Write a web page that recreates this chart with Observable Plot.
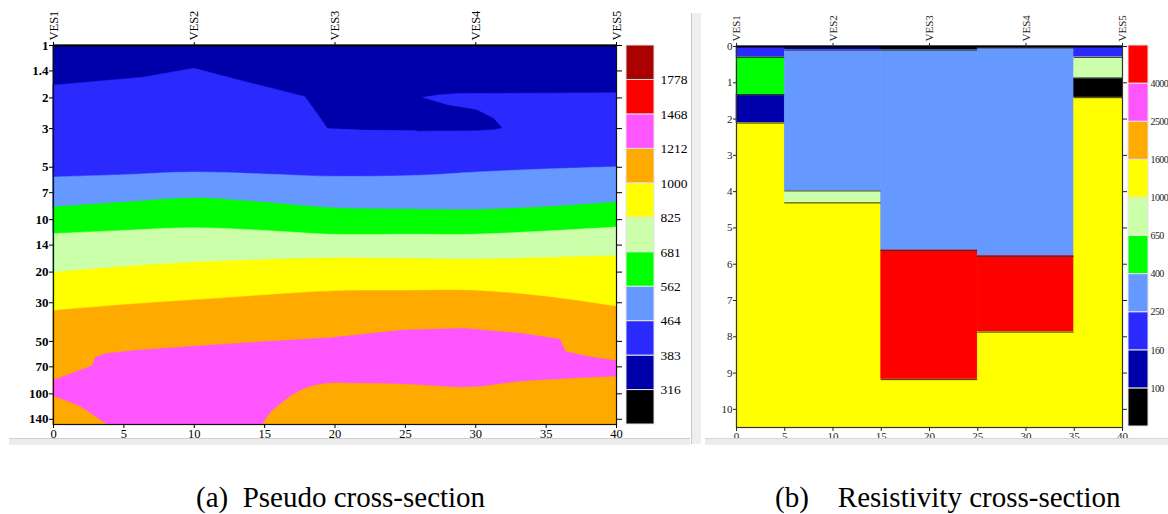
<!DOCTYPE html>
<html><head><meta charset="utf-8">
<script src="https://cdn.jsdelivr.net/npm/d3@7"></script>
<script src="https://cdn.jsdelivr.net/npm/@observablehq/plot@0.6"></script>
<style>
html,body{margin:0;padding:0;background:#fff;overflow:hidden;}
#root{position:relative;width:1168px;height:514px;font-family:'Liberation Serif','Times New Roman','DejaVu Serif',serif;}
.abs{position:absolute;}
.cap{position:absolute;font-family:'Liberation Serif','Times New Roman','DejaVu Serif',serif;font-size:29px;color:#000;white-space:pre;line-height:1;}
</style></head><body><div id="root"></div>
<script>
// ---------- (a) pseudo cross-section data ----------
const pseudoThresholds = [316, 383, 464, 562, 681, 825, 1000, 1212, 1468, 1778];
const pseudoColors = ["#000000", "#0000aa", "#2a2aff", "#6699ff", "#00ff00", "#ccffaa", "#ffff00", "#ffaa00", "#ff55ff", "#ff0000", "#aa0000"];
const pseudoDepthTicks = [1, 1.4, 2, 3, 5, 7, 10, 14, 20, 30, 50, 70, 100, 140];
const distanceTicks = [0, 5, 10, 15, 20, 25, 30, 35, 40];
const vesNames = ["VES1", "VES2", "VES3", "VES4", "VES5"];
const vesPositions = [0, 10, 20, 30, 40];
const pseudoMaxDepth = 150;

// top boundary of each apparent-resistivity zone (x in m, pseudo depth)
const zoneDarkBlueX = [0, 40];
const zoneDarkBlueTop = [1, 1];
const zoneBlueX = [0, 3, 6.4, 10, 14, 17.9, 19.0, 19.5, 22, 26.2, 26.2, 27.5, 28.9, 35, 40];
const zoneBlueTop = [1.70, 1.62, 1.53, 1.36, 1.65, 1.98, 2.64, 3.02, 3.08, 3.11, 2.0, 1.93, 1.90, 1.89, 1.88];
const tongueX = [25.9, 26.2, 28, 30.1, 31.3, 31.9];
const tongueTop = [2.02, 2.0, 2.21, 2.36, 2.64, 2.99];
const tongueBottom = [3.11, 3.11, 3.10, 3.09, 3.05, 2.99];
const zoneLightBlueX = [0, 5, 10, 15, 19.7, 26, 30.1, 35, 40];
const zoneLightBlueTop = [5.72, 5.55, 5.36, 5.5, 5.67, 5.6, 5.36, 5.15, 5.0];
const zoneGreenX = [0, 5, 10, 15, 19.7, 25, 29.6, 35, 40];
const zoneGreenTop = [8.5, 8.0, 7.56, 8.0, 8.6, 8.75, 8.82, 8.5, 7.97];
const zonePaleX = [0, 5, 10, 15, 19.7, 25, 29.9, 35, 40];
const zonePaleTop = [12.1, 11.6, 11.2, 11.6, 12.2, 12.2, 12.2, 11.7, 11.1];
const zoneYellowX = [0, 5, 10, 15, 19.7, 25, 29.9, 35, 40];
const zoneYellowTop = [20.2, 18.7, 17.7, 17.1, 16.7, 16.8, 17.0, 16.6, 16.2];
const zoneOrangeX = [0, 5, 10, 15, 19.7, 25, 29.9, 35, 40];
const zoneOrangeTop = [33.5, 31, 29.1, 27.3, 25.9, 25.7, 25.7, 27.8, 31.7];
const zoneMagentaX = [0, 1.5, 2.8, 3.0, 3.8, 6, 10, 15, 19.7, 24.9, 29.2, 33.2, 36, 36.4, 38, 40];
const zoneMagentaTop = [84, 76, 69.4, 62, 59, 56.5, 53.7, 50.5, 48, 43.3, 42.4, 45.2, 48.9, 57.6, 61.5, 64.9];
const lowerOrangeLeftX = [0, 1, 1.9, 2.84, 3.78];
const lowerOrangeLeftTop = [104, 111, 119, 133, 150];
const lowerOrangeRightX = [14.9, 15.5, 16.4, 17.3, 18.3, 19.7, 21.1, 24.9, 29.7, 33.2, 36, 40];
const lowerOrangeRightTop = [150, 128, 111, 99, 91.4, 87.5, 87.5, 88.6, 92.1, 85.6, 82.9, 80.1];
const zoneRho = {darkblue: 350, blue: 420, lightblue: 510, green: 620, pale: 750, yellow: 900, orange: 1100, magenta: 1340};

// ---------- (b) resistivity cross-section data ----------
const resThresholds = [100, 160, 250, 400, 650, 1000, 1600, 2500, 4000];
const resColors = ["#000000", "#0000aa", "#2a2aff", "#6699ff", "#00ff00", "#ccffaa", "#ffff00", "#ffaa00", "#ff55ff", "#ff0000"];
const resDepthTicks = [0, 1, 2, 3, 4, 5, 6, 7, 8, 9, 10];
const resMaxDepth = 10.5;
const colStart = [0, 5, 15, 25, 35];
const colEnd = [5, 15, 25, 35, 40];
const layerTops = [
  [0, 0.30, 1.34, 2.11],
  [0, 0.10, 3.98, 4.31],
  [0, 0.10, 5.62, 9.18],
  [0, 0.04, 5.78, 7.87],
  [0, 0.30, 0.88, 1.41]
];
const layerRho = [
  [200, 500, 130, 1200],
  [130, 300, 800, 1200],
  [80, 300, 5000, 1200],
  [80, 300, 5000, 1200],
  [200, 800, 80, 1200]
];

// ---------- build tables ----------
function zone(name, rho, xs, tops, bottoms, curve) {
  return {name, curve, rows: xs.map((x, i) => ({x, top: tops[i], bottom: bottoms ? bottoms[i] : pseudoMaxDepth, rho}))};
}
const zones = [
  zone("darkblue", zoneRho.darkblue, zoneDarkBlueX, zoneDarkBlueTop, null, "linear"),
  zone("blue", zoneRho.blue, zoneBlueX, zoneBlueTop, null, "linear"),
  zone("tongue", zoneRho.darkblue, tongueX, tongueTop, tongueBottom, "linear"),
  zone("lightblue", zoneRho.lightblue, zoneLightBlueX, zoneLightBlueTop, null, "catmull-rom"),
  zone("green", zoneRho.green, zoneGreenX, zoneGreenTop, null, "catmull-rom"),
  zone("pale", zoneRho.pale, zonePaleX, zonePaleTop, null, "catmull-rom"),
  zone("yellow", zoneRho.yellow, zoneYellowX, zoneYellowTop, null, "catmull-rom"),
  zone("orange", zoneRho.orange, zoneOrangeX, zoneOrangeTop, null, "catmull-rom"),
  zone("magenta", zoneRho.magenta, zoneMagentaX, zoneMagentaTop, null, "linear"),
  zone("orangeL", zoneRho.orange, lowerOrangeLeftX, lowerOrangeLeftTop, null, "catmull-rom"),
  zone("orangeR", zoneRho.orange, lowerOrangeRightX, lowerOrangeRightTop, null, "catmull-rom")
];

const layers = [];
layerTops.forEach((tops, c) => tops.forEach((t, k) => layers.push({
  x1: colStart[c], x2: colEnd[c], top: t,
  bottom: k + 1 < tops.length ? tops[k + 1] : resMaxDepth, rho: layerRho[c][k]
})));

const root = document.getElementById("root");
function place(node, left, top) {
  node.style.position = "absolute"; node.style.left = left + "px"; node.style.top = top + "px";
  root.appendChild(node);
}
const serif = "'Liberation Serif', 'Times New Roman', 'DejaVu Serif', serif";

// the pseudo-depth axis is logarithmic: positions use log10(depth)
const lg = Math.log10;
const depthLabel = v => String(pseudoDepthTicks.find(t => Math.abs(lg(t) - v) < 1e-9));
const logTicks = pseudoDepthTicks.map(lg);

// ---------- panel (a) ----------
const plotA = Plot.plot({
  width: 625, height: 445,
  marginLeft: 53, marginRight: 9, marginTop: 45, marginBottom: 21,
  style: {fontFamily: serif, fontSize: "12px", color: "#000", background: "transparent", overflow: "visible"},
  x: {domain: [0, 40]},
  y: {domain: [0, lg(pseudoMaxDepth)], reverse: true},
  color: {type: "threshold", domain: pseudoThresholds, range: pseudoColors},
  marks: [
    ...zones.map(z => Plot.areaY(z.rows, {x: "x", y1: d => lg(d.top), y2: d => lg(d.bottom), fill: "rho", stroke: "rho", strokeWidth: 0.5, curve: z.curve})),
    Plot.frame({stroke: "#111", strokeWidth: 1.2}),
    Plot.ruleY([0], {stroke: "#000", strokeWidth: 2}),
    Plot.axisY(logTicks, {tickFormat: depthLabel, tickSize: 4, tickPadding: 1, fontWeight: "bold", fontSize: 13, label: null}),
    Plot.axisY(logTicks, {anchor: "right", tickFormat: () => "", tickSize: 5, label: null}),
    Plot.axisX(distanceTicks, {anchor: "bottom", tickSize: 4, tickPadding: 1, fontSize: 12.5, label: null}),
    Plot.axisX(vesPositions, {anchor: "top", tickFormat: d => vesNames[vesPositions.indexOf(d)], tickRotate: -90, tickSize: 4, tickPadding: 1, fontSize: 12.5, label: null})
  ]
});
place(plotA, 0, 0);

const legendA = Plot.plot({
  width: 75, height: 445,
  marginLeft: 6, marginRight: 41, marginTop: 45, marginBottom: 21,
  style: {fontFamily: serif, fontSize: "13.5px", color: "#000", background: "transparent", overflow: "visible"},
  x: {domain: [0, 1], axis: null},
  y: {domain: [0, pseudoColors.length], axis: null},
  color: {type: "identity"},
  marks: [
    Plot.rect(pseudoColors, {x1: 0, x2: 1, y1: (d, i) => i, y2: (d, i) => i + 1, fill: d => d, stroke: "#e4e4e4", strokeWidth: 1}),
    Plot.text(pseudoThresholds, {x: 1, y: (d, i) => i + 1, text: d => String(d), dx: 6, textAnchor: "start"})
  ]
});
place(legendA, 620, 0);

// ---------- panel (b) ----------
const plotB = Plot.plot({
  width: 428, height: 445,
  marginLeft: 36, marginRight: 6, marginTop: 46, marginBottom: 18,
  style: {fontFamily: serif, fontSize: "11px", color: "#222", background: "transparent", overflow: "visible"},
  x: {domain: [0, 40]},
  y: {domain: [0, resMaxDepth], reverse: true},
  color: {type: "threshold", domain: resThresholds, range: resColors},
  marks: [
    Plot.rect(layers, {x1: "x1", x2: "x2", y1: "top", y2: "bottom", fill: "rho", stroke: "rho", strokeWidth: 0.6}),
    Plot.ruleY(layers.filter(d => d.top > 0), {y: "top", x1: "x1", x2: "x2", stroke: "#333", strokeWidth: 1}),
    Plot.frame({stroke: "#333", strokeWidth: 1.2}),
    Plot.ruleY([0], {stroke: "#000", strokeWidth: 2}),
    Plot.axisY(resDepthTicks, {tickSize: 3, tickPadding: 1, label: null}),
    Plot.axisY(resDepthTicks, {anchor: "right", tickFormat: () => "", tickSize: 4, label: null}),
    Plot.axisX(distanceTicks, {anchor: "bottom", tickSize: 4, tickPadding: 1, label: null}),
    Plot.axisX(vesPositions, {anchor: "top", tickFormat: d => vesNames[vesPositions.indexOf(d)], tickRotate: -90, tickSize: 4, tickPadding: 1, label: null})
  ]
});
place(plotB, 700, 0);

const legendB = Plot.plot({
  width: 46, height: 445,
  marginLeft: 6, marginRight: 20, marginTop: 45, marginBottom: 19,
  style: {fontFamily: serif, fontSize: "10px", color: "#222", background: "transparent", overflow: "visible", letterSpacing: "-0.6px"},
  x: {domain: [0, 1], axis: null},
  y: {domain: [0, resColors.length], axis: null},
  color: {type: "identity"},
  marks: [
    Plot.rect(resColors, {x1: 0, x2: 1, y1: (d, i) => i, y2: (d, i) => i + 1, fill: d => d, stroke: "#e4e4e4", strokeWidth: 1}),
    Plot.text(resThresholds, {x: 1, y: (d, i) => i + 1, text: d => String(d), dx: 2, textAnchor: "start"})
  ]
});
place(legendB, 1122, 0);

// ---------- window chrome ----------
function bar(left, top, w, h, bg, border) {
  const d = document.createElement("div");
  d.className = "abs";
  Object.assign(d.style, {left: left + "px", top: top + "px", width: w + "px", height: h + "px", background: bg});
  if (border) d.style.borderTop = border;
  root.appendChild(d);
}
bar(9, 438, 681, 6, "#ececec", "1px solid #d0d0d0");
bar(692, 13, 9, 431, "#eeeeee", null);
bar(691, 13, 1, 431, "#c8c8c8", null);
bar(705, 438, 463, 6, "#ececec", "1px solid #d6d6d6");

// ---------- captions ----------
function caption(text, left, top) {
  const d = document.createElement("div");
  d.className = "cap"; d.textContent = text;
  d.style.left = left + "px"; d.style.top = top + "px";
  root.appendChild(d);
}
caption("(a)  Pseudo cross-section", 196, 483);
caption("(b)    Resistivity cross-section", 775, 483);
</script></body></html>
